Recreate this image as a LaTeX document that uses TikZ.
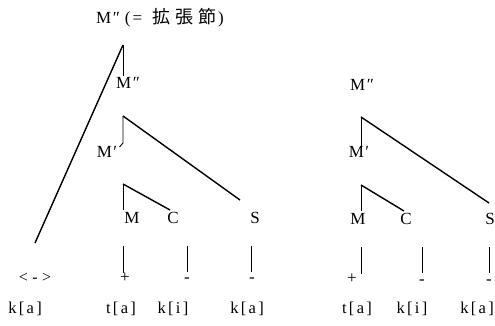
\documentclass[tikz,border=0pt]{standalone}
\usepackage{fontspec}
\setmainfont{Liberation Serif}
\newfontfamily\cjk{Noto Sans CJK JP}
\newfontfamily\spc[LetterSpace=14]{Liberation Serif}
\newfontfamily\spcwide[LetterSpace=28]{Liberation Serif}
\newcommand{\dpr}{\hspace{1.5pt}″}
\newcommand{\spr}{\hspace{1.5pt}′}
\begin{document}
\begin{tikzpicture}[x=1pt,y=-1pt,
  lbl/.style={inner sep=0pt, font=\fontsize{17}{20}\selectfont},
  word/.style={inner sep=0pt, anchor=base, font=\spc\fontsize{16.5}{19}\selectfont},
  diag/.style={line width=1.4pt},
  vert/.style={line width=0.9pt}]
\useasboundingbox (0,0) rectangle (495,326);

% ---------- left tree ----------
\node[lbl, anchor=west] (title) at (96,18) {M\dpr\hspace{5pt}(\hspace{2pt}=\hspace{10pt}{\cjk\fontsize{18}{20}\selectfont 拡\hspace{5pt}張\hspace{5pt}節}\hspace{2pt})};
\node[lbl] (lM2) at (128,83) {M\dpr};
\node[lbl] (lM1) at (107,152) {M\spr};
\node[lbl] (lM) at (132,218) {M};
\node[lbl] (lC) at (173,218) {C};
\node[lbl] (lS) at (255,218) {S};

\coordinate (la1) at (123,45);
\coordinate (la1v) at (123,76);
\coordinate (lend) at (35,243);
\coordinate (la2) at (123,116);
\coordinate (la2v) at (123,143);
\coordinate (la2h) at (119.5,147);
\coordinate (la2d) at (240,200);
\coordinate (la3) at (123,184);
\coordinate (la3v) at (123,210);
\coordinate (la3d) at (170,210);

\draw[vert] (la1) -- (la1v);
\draw[diag] (la1) -- (lend);
\draw[vert] (la2) -- (la2v) -- (la2h);
\draw[diag] (la2) -- (la2d);
\draw[vert] (la3) -- (la3v);
\draw[diag] (la3) -- (la3d);

\coordinate (lt1a) at (123,246); \coordinate (lt1b) at (123,273);
\coordinate (lt2a) at (187,246); \coordinate (lt2b) at (187,272);
\coordinate (lt3a) at (251,246); \coordinate (lt3b) at (251,272);
\draw[vert] (lt1a) -- (lt1b);
\draw[vert] (lt2a) -- (lt2b);
\draw[vert] (lt3a) -- (lt3b);

\node[lbl] (lp1) at (125,278) {+};
\node[lbl] (lp2) at (187,280) {-};
\node[lbl] (lp3) at (252,280) {-};
\node[word, font=\spcwide\fontsize{16}{19}\selectfont] (larr) at (35,282) {<->};

\node[word] (lw0) at (25,313) {k[a]};
\node[word] (lw1) at (121,313) {t[a]};
\node[word] (lw2) at (173,313) {k[i]};
\node[word] (lw3) at (247,313) {k[a]};

% ---------- right tree ----------
\node[lbl] (rM2) at (362,85) {M\dpr};
\node[lbl] (rM1) at (359,152) {M\spr};
\node[lbl] (rM) at (358,219) {M};
\node[lbl] (rC) at (406,219) {C};
\node[lbl] (rS) at (490,219) {S};

\coordinate (ra2) at (361,117);
\coordinate (ra2v) at (361,149);
\coordinate (ra2d) at (489,203);
\coordinate (ra3) at (361,185);
\coordinate (ra3v) at (361,211);
\coordinate (ra3d) at (404,211);

\draw[vert] (ra2) -- (ra2v);
\draw[diag] (ra2) -- (ra2d);
\draw[vert] (ra3) -- (ra3v);
\draw[diag] (ra3) -- (ra3d);

\coordinate (rt1a) at (361,247); \coordinate (rt1b) at (361,274);
\coordinate (rt2a) at (422,247); \coordinate (rt2b) at (422,273);
\coordinate (rt3a) at (489,247); \coordinate (rt3b) at (489,273);
\draw[vert] (rt1a) -- (rt1b);
\draw[vert] (rt2a) -- (rt2b);
\draw[vert] (rt3a) -- (rt3b);

\node[lbl] (rp1) at (352,279) {+};
\node[lbl] (rp2) at (422,282) {-};
\node[lbl] (rp3) at (489,282) {-};

\node[word] (rw1) at (357,313) {t[a]};
\node[word] (rw2) at (412,313) {k[i]};
\node[word] (rw3) at (477,313) {k[a]};
\end{tikzpicture}
\end{document}
